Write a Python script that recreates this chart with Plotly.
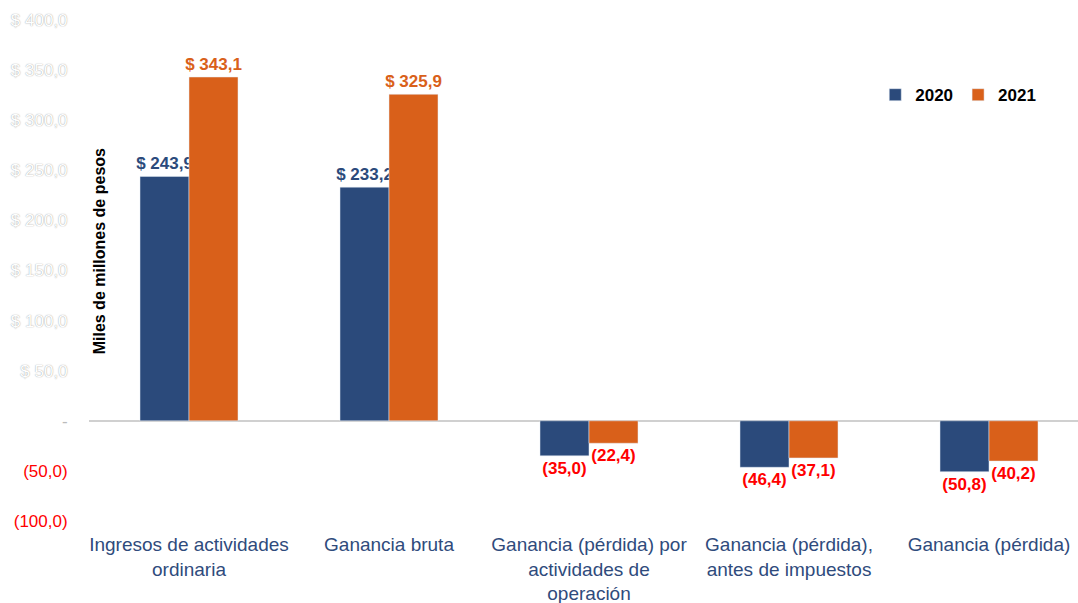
import plotly.graph_objects as go

categories = [
    "Ingresos de actividades<br>ordinaria",
    "Ganancia bruta",
    "Ganancia (pérdida) por<br>actividades de<br>operación",
    "Ganancia (pérdida),<br>antes de impuestos",
    "Ganancia (pérdida)",
]
values_2020 = [243.9, 233.2, -35.0, -46.4, -50.8]
values_2021 = [343.1, 325.9, -22.4, -37.1, -40.2]
tick_vals = [-100, -50, 0, 50, 100, 150, 200, 250, 300, 350, 400]
tick_labels = ["(100,0)", "(50,0)", "-", "$ 50,0", "$ 100,0", "$ 150,0", "$ 200,0",
               "$ 250,0", "$ 300,0", "$ 350,0", "$ 400,0"]

BLUE = "#2B4A7B"
ORANGE = "#D9601A"
FONT = "Liberation Sans, Arial, sans-serif"


def fmt(v):
    s = f"{abs(v):.1f}".replace(".", ",")
    return f"$ {s}" if v >= 0 else f"({s})"


def label_colors(vals, pos_color):
    return [pos_color if v >= 0 else "#FF0000" for v in vals]


def styled_tick(t, v):
    if v < 0:
        return f'<span style="color:#FF0000;text-shadow:none">{t}</span>'
    if v == 0:
        return f'<span style="color:#BBBBBB;text-shadow:none">{t}</span>'
    return t


fig = go.Figure()
fig.add_trace(go.Bar(
    name="2020", x=categories, y=values_2020, marker_color=BLUE,
    text=[fmt(v) for v in values_2020], textposition="outside", constraintext="none",
    textfont=dict(family=FONT, size=17, color=label_colors(values_2020, BLUE), weight="bold"),
    cliponaxis=False,
))
fig.add_trace(go.Bar(
    name="2021", x=categories, y=values_2021, marker_color=ORANGE,
    text=[fmt(v) for v in values_2021], textposition="outside", constraintext="none",
    textfont=dict(family=FONT, size=17, color=label_colors(values_2021, ORANGE), weight="bold"),
    cliponaxis=False,
))

fig.update_layout(
    width=1078, height=603,
    margin=dict(l=89, r=0, t=20, b=82, autoexpand=False),
    paper_bgcolor="white", plot_bgcolor="white",
    barmode="group", bargap=0.51, bargroupgap=0,
    font=dict(family=FONT),
    showlegend=True,
    legend=dict(orientation="h", x=0.795, y=0.85, xanchor="left", yanchor="middle",
                font=dict(family=FONT, size=17, color="black", weight="bold"),
                itemwidth=30, traceorder="normal", bgcolor="rgba(0,0,0,0)"),
)
fig.update_xaxes(
    range=[-0.5, 4.445], showgrid=False, showline=False, ticks="", automargin=False,
    tickfont=dict(family=FONT, size=19, color="#2F4B7C"),
    ticklabelstandoff=10,
)
fig.update_yaxes(
    range=[-100, 400], tickvals=tick_vals, automargin=False,
    ticktext=[styled_tick(t, v) for t, v in zip(tick_labels, tick_vals)],
    tickfont=dict(family=FONT, size=17, color="#FFFFFF", shadow="0px 0px 1.2px #8A8A8A"),
    showgrid=False, showline=False,
    zeroline=True, zerolinecolor="#D0D0D0", zerolinewidth=1.5,
    ticks="outside", ticklen=17, tickcolor="rgba(0,0,0,0)",
)
fig.add_annotation(
    text="<b>Miles de millones de pesos</b>", textangle=-90,
    xref="paper", yref="y", x=0.011, y=169, xanchor="center", yanchor="middle",
    showarrow=False,
    font=dict(family=FONT, size=16, color="black"),
)

fig.write_html("out.html", config={"displayModeBar": False},
               post_script="document.body.style.margin='0';")
